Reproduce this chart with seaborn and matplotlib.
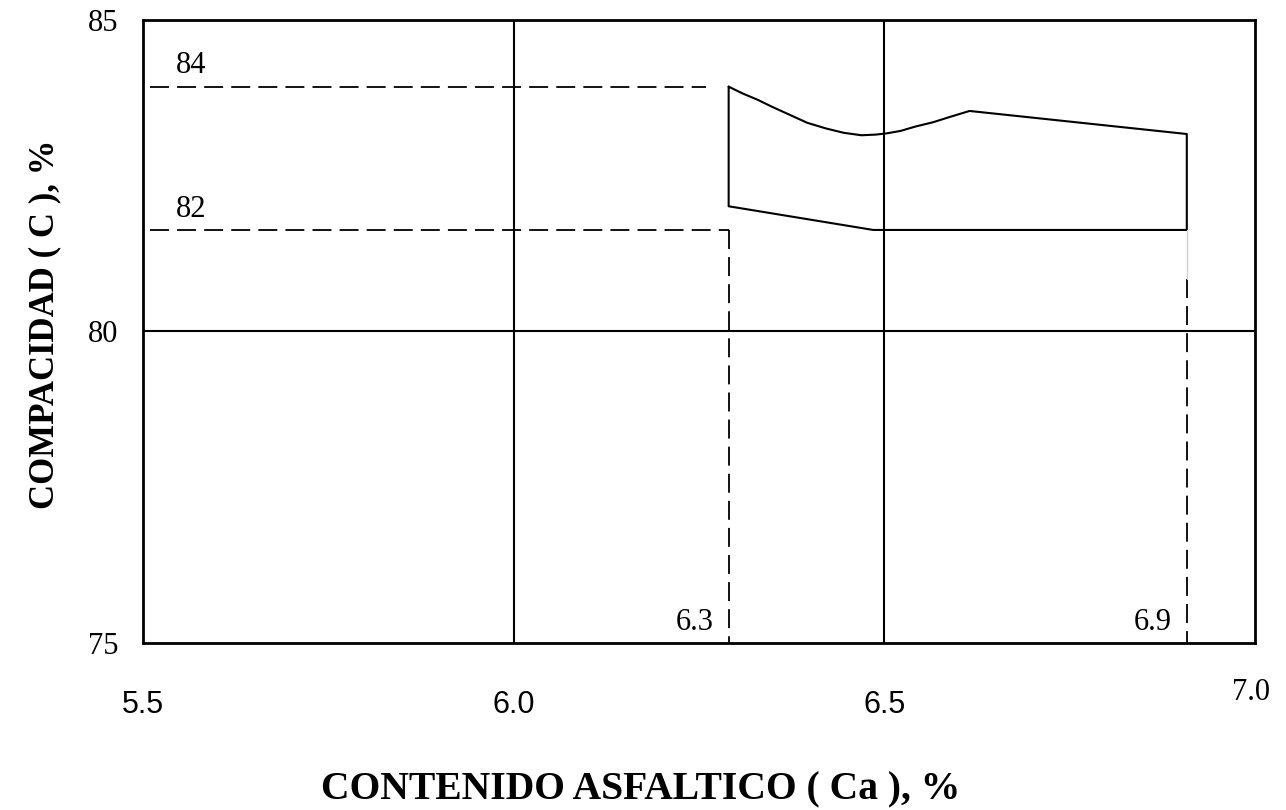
"""
Gráfico de compacidad vs contenido asfáltico (zona admisible).
"""
import matplotlib.pyplot as plt
import pandas as pd
import seaborn as sns

# Límite superior de la zona (curva)
upper_ca = [6.29, 6.309, 6.329, 6.348, 6.372, 6.396, 6.421, 6.445, 6.469,
            6.488, 6.503, 6.522, 6.542, 6.566, 6.590, 6.615, 6.908]
upper_c = [83.93, 83.82, 83.72, 83.61, 83.48, 83.35, 83.26, 83.19, 83.15,
           83.16, 83.18, 83.22, 83.29, 83.36, 83.45, 83.54, 83.17]

# Límite inferior de la zona
lower_ca = [6.908, 6.485, 6.29]
lower_c = [81.63, 81.63, 82.01]

# Líneas de referencia
ref_c = [83.93, 81.63]
ref_c_labels = ["84", "82"]
ref_c_end = [6.26, 6.29]
ref_ca = [6.29, 6.908]
ref_ca_labels = ["6.3", "6.9"]
ref_ca_top = [81.63, 80.85]

x_ticks = [5.5, 6.0, 6.5]
x_tick_labels = ["5.5", "6.0", "6.5"]
y_ticks = [75, 80, 85]
y_tick_labels = ["75", "80", "85"]

SERIF = ["Liberation Serif", "DejaVu Serif"]
SANS = ["Liberation Sans", "DejaVu Sans"]
DASH = (10.5, 4.5)

sns.set_theme(style="white")
plt.rcParams["font.family"] = SERIF
plt.rcParams.update({"text.color": "black", "axes.labelcolor": "black",
                     "xtick.color": "black", "ytick.color": "black"})

fig = plt.figure(figsize=(12.86, 8.10), dpi=100)
ax = fig.add_axes([0.1112, 0.2062, 0.8647, 0.7691])

# Contorno cerrado de la zona
zone = pd.DataFrame({
    "ca": upper_ca + lower_ca + [upper_ca[0]],
    "c": upper_c + lower_c + [upper_c[0]],
})
sns.lineplot(data=zone, x="ca", y="c", sort=False, estimator=None,
             color="black", lw=1.5, ax=ax)

# Líneas discontinuas horizontales y verticales
for c, lab, x_end in zip(ref_c, ref_c_labels, ref_c_end):
    ax.plot([5.51, x_end], [c, c], color="black", lw=1.3, dashes=DASH)
    ax.text(5.545, c + 0.1, lab, fontsize=22, family=SERIF,
            ha="left", va="bottom")
for ca, lab, top in zip(ref_ca, ref_ca_labels, ref_ca_top):
    ax.plot([ca, ca], [top, 75.0], color="black", lw=1.3, dashes=DASH)
    ax.text(ca - 0.02, 75.1, lab, fontsize=22, family=SERIF,
            ha="right", va="bottom")
ax.plot([ref_ca[1], ref_ca[1]], [ref_c[1], ref_ca_top[1]],
        color="#d0d0d0", lw=1)

# Rejilla
for g in [6.0, 6.5]:
    ax.axvline(g, color="black", lw=1.5)
ax.axhline(80, color="black", lw=1.5)

ax.set_xlim(5.5, 7.0)
ax.set_ylim(75, 85)
for s in ax.spines.values():
    s.set_color("black")
    s.set_linewidth(2)

ax.set_xticks(x_ticks)
ax.set_xticklabels(x_tick_labels, family=SANS, fontsize=22)
ax.set_yticks(y_ticks)
ax.set_yticklabels(y_tick_labels, family=SERIF, fontsize=22)
ax.tick_params(axis="x", length=0, pad=34)
ax.tick_params(axis="y", length=0, pad=18)
ax.text(6.995, 74.21, "7.0", family=SERIF, fontsize=22,
        ha="center", va="center")

ax.set_xlabel("")
ax.set_ylabel("")
fig.text(0.498, 0.025, "CONTENIDO ASFALTICO ( Ca ), %", family=SERIF,
         fontsize=28.5, fontweight="bold", ha="center", va="center")
fig.text(0.035, 0.60, "COMPACIDAD ( C ), %", family=SERIF, fontsize=25,
         fontweight="bold", rotation=90, ha="center", va="center")

fig.savefig("out.png", dpi=100)
plt.close(fig)
